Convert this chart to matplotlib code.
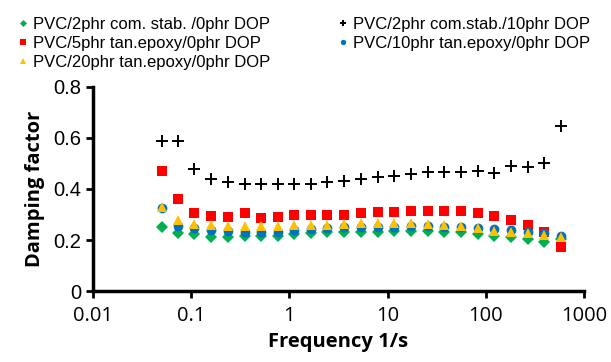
import numpy as np
import matplotlib.pyplot as plt

## DATA
# frequency sweep (1/s)
freq = [0.05, 0.074, 0.108, 0.16, 0.236, 0.35, 0.51, 0.76, 1.12, 1.65,
        2.44, 3.6, 5.3, 7.9, 11.7, 17.2, 25.5, 37.7, 55.7, 82.3,
        122, 180, 266, 393, 581]

com_stab_0dop = [0.250, 0.226, 0.222, 0.213, 0.213, 0.217, 0.217, 0.217, 0.222, 0.226,
                 0.230, 0.232, 0.233, 0.233, 0.235, 0.235, 0.235, 0.233, 0.230, 0.224,
                 0.216, 0.211, 0.203, 0.193, 0.205]
com_stab_10dop = [0.589, 0.589, 0.477, 0.438, 0.427, 0.421, 0.418, 0.418, 0.418, 0.421,
                  0.427, 0.431, 0.439, 0.446, 0.452, 0.460, 0.465, 0.465, 0.465, 0.469,
                  0.464, 0.491, 0.485, 0.501, 0.647]
tan5_0dop = [0.472, 0.362, 0.306, 0.295, 0.291, 0.307, 0.287, 0.291, 0.299, 0.299,
             0.299, 0.299, 0.307, 0.311, 0.311, 0.314, 0.314, 0.314, 0.314, 0.307,
             0.295, 0.278, 0.259, 0.233, 0.174]
tan10_0dop = [0.324, 0.255, 0.246, 0.239, 0.235, 0.233, 0.233, 0.233, 0.239, 0.242,
              0.246, 0.250, 0.250, 0.252, 0.252, 0.254, 0.254, 0.252, 0.250, 0.247,
              0.243, 0.238, 0.232, 0.226, 0.215]
tan20_0dop = [0.328, 0.278, 0.263, 0.259, 0.255, 0.255, 0.255, 0.255, 0.259, 0.259,
              0.259, 0.262, 0.265, 0.265, 0.265, 0.265, 0.263, 0.259, 0.255, 0.246,
              0.235, 0.230, 0.226, 0.220, 0.213]

labels = ['PVC/2phr com. stab. /0phr DOP', 'PVC/2phr com.stab./10phr DOP',
          'PVC/5phr tan.epoxy/0phr DOP', 'PVC/10phr tan.epoxy/0phr DOP',
          'PVC/20phr tan.epoxy/0phr DOP']

## PLOT
fig = plt.figure(figsize=(6.11, 3.62), dpi=100)
ax = fig.add_axes([0.152, 0.196, 0.804, 0.564])

h1, = ax.plot(freq, com_stab_0dop, 'D', color='#00B050', ms=6.5, mew=0, label=labels[0])
h2, = ax.plot(freq, com_stab_10dop, '+', color='black', ms=9, mew=1.4, label=labels[1])
h3, = ax.plot(freq, tan5_0dop, 's', color='#FF0000', ms=7.5, mew=0, label=labels[2])
h4, = ax.plot(freq, tan10_0dop, 'o', color='#0070C0', ms=7, mew=0, label=labels[3])
h5, = ax.plot(freq, tan20_0dop, '^', color='#FFC000', ms=7.5, mew=0, label=labels[4])

ax.set_xscale('log')
ax.set_xlim(0.01, 1000)
ax.set_ylim(0, 0.8)
ax.set_xticks([0.01, 0.1, 1, 10, 100, 1000])
ax.set_xticklabels(['0.01', '0.1', '1', '10', '100', '1000'],
                   fontfamily='Open Sans', fontsize=14.5)
ax.minorticks_off()
ax.set_yticks([0, 0.2, 0.4, 0.6, 0.8])
ax.set_yticklabels(['0', '0.2', '0.4', '0.6', '0.8'],
                   fontfamily='Liberation Sans', fontsize=14.5)

for s in ['top', 'right']:
    ax.spines[s].set_visible(False)
for s in ['left', 'bottom']:
    ax.spines[s].set_linewidth(2.5)
ax.tick_params(direction='out', length=5, width=2)
ax.tick_params(axis='x', pad=6)

ax.set_xlabel('Frequency 1/s', fontfamily='Open Sans', fontweight='bold',
              fontsize=14.5, labelpad=4)
ax.set_ylabel('Damping factor', fontfamily='Open Sans', fontweight='bold',
              fontsize=14.5, labelpad=6)

# legend: Excel fills row by row, matplotlib fills column by column
leg = fig.legend([h1, h3, h5, h2, h4],
                 [labels[0], labels[2], labels[4], labels[1], labels[3]],
                 ncol=2, loc='upper left', bbox_to_anchor=(0.006, 0.995),
                 frameon=False, prop={'family': 'Liberation Sans', 'size': 12},
                 handlelength=0.55, handletextpad=0.3, columnspacing=4.1,
                 labelspacing=0.25, markerscale=0.55)

fig.savefig('out.png', dpi=100)
